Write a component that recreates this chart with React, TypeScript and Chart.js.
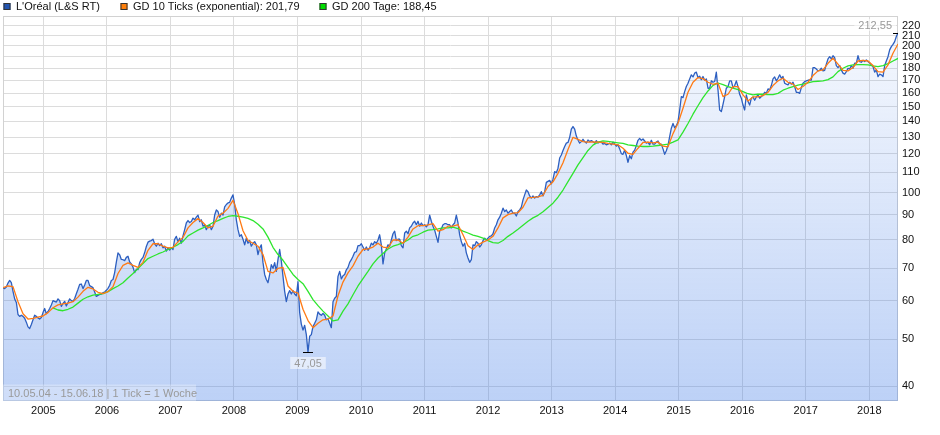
import React, { useEffect, useRef } from "react";
import { Chart, registerables } from "chart.js";

Chart.register(...registerables);

// ---- data -------------------------------------------------------------
const START_YEAR = 2004.365; // 10.05.04
const END_YEAR = 2018.452; // 15.06.18
const YEAR_TICKS = [2005, 2006, 2007, 2008, 2009, 2010, 2011, 2012, 2013, 2014, 2015, 2016, 2017, 2018];
const PRICE_TICKS = [40, 50, 60, 70, 80, 90, 100, 110, 120, 130, 140, 150, 160, 170, 180, 190, 200, 210, 220];
const PRICE_MIN = 37.34;
const PRICE_MAX = 230.3;
const PERIOD_TEXT = "10.05.04 - 15.06.18";
const TICK_TEXT = "1 Tick = 1 Woche";
const SERIES_NAMES = ["L'Oréal (L&S RT)", "GD 10 Ticks (exponential)", "GD 200 Tage"];

// L'Oréal price, evenly spaced ticks from START_YEAR to END_YEAR
const PRICE = [
  63.8, 63.5, 64.0, 65.2, 66.0, 65.3, 62.7, 60.5, 59.5, 56.2,
  55.7, 56.0, 55.7, 55.2, 54.2, 53.0, 52.6, 53.6, 54.8, 56.0,
  55.7, 55.3, 55.0, 55.4, 56.7, 57.8, 56.4, 57.0, 57.8, 58.8,
  60.0, 59.8, 59.6, 60.5, 60.0, 58.4, 59.2, 59.8, 58.5, 59.5,
  60.5, 60.0, 59.8, 60.6, 62.0, 63.3, 64.8, 64.9, 63.5, 64.6,
  66.0, 66.0, 64.4, 64.1, 63.8, 62.5, 61.2, 61.5, 61.8, 61.9,
  62.3, 62.5, 63.0, 63.6, 64.5, 66.0, 66.3, 68.5, 72.0, 75.2,
  74.5, 72.9, 72.8, 72.5, 73.6, 74.0, 72.0, 71.4, 70.3, 68.5,
  69.6, 69.5, 71.8, 72.9, 73.6, 75.3, 77.5, 79.1, 79.5,
  79.7, 80.2, 78.5, 77.6, 78.7, 77.8, 78.5, 77.0, 77.6, 75.8,
  77.0, 76.2, 77.0, 76.4, 80.2, 81.3, 79.3, 80.6, 78.7, 81.5,
  83.9, 86.6, 87.6, 86.8, 87.2, 88.6, 87.9, 89.0, 89.9, 87.2,
  87.9, 85.3, 85.9, 83.9, 85.3, 85.9, 83.9, 85.3, 89.9, 92.1,
  91.4, 89.0, 90.7, 89.9, 93.4, 94.5, 95.2, 95.5, 97.4, 98.9,
  94.5, 87.9, 83.9, 81.3, 81.9, 80.2, 78.1, 80.6, 78.7, 79.7,
  77.6, 78.7, 79.3, 78.1, 74.6, 77.0, 78.1, 71.8, 67.9, 66.3,
  65.3, 67.9, 71.1, 69.9, 71.8, 68.9, 72.9, 76.4, 72.3, 67.3,
  62.7, 59.7, 61.9, 62.9, 61.9, 62.9, 61.9, 61.4, 65.6, 56.7,
  53.7, 52.2, 53.4, 51.1, 47.05, 50.7, 51.1, 53.1, 53.9, 54.8,
  56.9, 56.3, 56.0, 56.5, 56.0, 54.8, 55.1, 53.9, 52.8, 59.7,
  60.7, 61.2, 67.3, 68.9, 66.5, 67.5, 67.9, 69.4, 70.2, 71.9,
  72.8, 74.0, 75.4, 75.6, 77.8, 77.8, 78.5, 77.3, 76.1, 77.3,
  76.1, 77.0, 78.7, 78.1, 79.3, 78.7, 79.9, 81.9, 78.1, 71.4,
  75.2, 76.6, 78.1, 77.6, 79.9, 82.3, 83.3, 79.7, 80.2, 80.2,
  77.8, 77.0, 82.6, 83.3, 82.3, 84.6, 85.3, 86.6, 87.3, 85.9,
  87.3, 85.3, 86.6, 85.5, 85.9, 85.0, 85.9, 89.9, 87.3, 85.3,
  83.7, 81.3, 79.0, 83.3, 84.2, 85.9, 86.3, 86.3, 85.9, 85.9,
  84.6, 85.9, 86.6, 89.9, 86.6, 81.9, 79.3, 77.6, 78.7, 75.2,
  73.4, 71.9, 72.8, 78.1, 77.8, 79.3, 78.7, 77.3, 78.1, 79.7,
  80.6, 79.9, 80.6, 81.3, 81.5, 82.3, 84.6, 85.9, 87.9, 89.0,
  90.7, 92.9, 91.4, 92.1, 90.7, 91.4, 92.1, 90.7, 90.7, 89.5,
  91.4, 92.1, 93.3, 96.6, 98.9, 101.2, 100.4, 98.4, 97.4, 98.4,
  97.4, 98.1, 97.8, 98.9, 100.4, 98.4, 100.4, 104.9, 105.4, 105.9,
  104.2, 106.5, 110.4, 109.8, 112.2, 117.7, 119.4, 122.0, 124.3, 126.3,
  126.7, 129.8, 134.9, 136.6, 134.9, 130.6, 128.2, 126.3, 127.2, 128.6,
  127.2, 126.3, 128.2, 127.2, 127.8, 127.2, 126.3, 127.8, 126.3, 127.2,
  126.9, 125.7, 126.1, 125.3, 125.7, 126.3, 125.3, 126.9, 125.7, 124.5,
  125.3, 122.9, 120.2, 119.8, 122.2, 119.1, 115.4, 119.1, 117.3, 121.0,
  122.2, 124.9, 128.0, 129.2, 128.0, 128.8, 127.6, 126.3, 126.9, 125.3,
  128.0, 125.7, 125.7, 126.9, 127.6, 125.7, 125.7, 122.9, 119.8, 121.8,
  124.9, 130.2, 135.5, 138.6, 135.8, 137.1, 139.8, 147.7, 157.4, 156.6,
  161.1, 165.0, 167.6, 171.1, 174.4, 172.7, 175.8, 176.6, 172.2, 173.3,
  170.5, 173.0, 170.0, 171.1, 163.7, 163.7, 169.5, 168.4, 169.0, 176.6,
  162.4, 147.7, 146.6, 151.7, 157.4, 163.7, 165.0, 169.5, 169.5, 164.2,
  165.8, 169.5, 165.0, 159.1, 156.2, 151.2, 147.7, 158.6, 153.7, 151.2,
  156.2, 157.1, 154.7, 157.1, 158.6, 156.2, 157.4, 158.6, 160.6, 159.8,
  163.2, 162.4, 165.8, 171.1, 172.7, 169.5, 171.6, 174.4, 171.6, 173.0,
  167.6, 166.9, 166.3, 168.4, 166.9, 168.4, 165.0, 160.6, 160.6, 159.8,
  164.2, 167.6, 168.9, 169.5, 170.0, 170.2, 170.2, 180.4, 180.4, 179.3,
  177.7, 178.2, 179.9, 177.7, 178.2, 183.4, 188.0, 190.0, 188.0, 190.9,
  189.1, 182.2, 180.4, 182.2, 178.5, 175.8, 175.0, 177.1, 179.9, 179.3,
  182.2, 179.9, 184.2, 184.2, 190.9, 185.7, 185.1, 186.8, 185.7, 187.1,
  185.7, 184.5, 182.8, 181.3, 176.6, 178.5, 173.0, 175.0, 174.4, 173.0,
  182.2, 186.2, 190.0, 196.2, 199.3, 201.4, 204.0, 209.0, 212.55,
];

// averages, read every 3rd tick
const AVG_EVERY = 3;
const EMA10 = [
  63.8, 64.3, 64.1, 59.7, 56.4, 55.0, 55.2, 55.5, 55.8, 56.7,
  58.0, 58.8, 59.1, 59.3, 59.7, 61.0, 62.7, 63.9, 63.4, 62.4,
  62.0, 62.6, 64.1, 68.2, 70.9, 71.7, 70.9, 70.2, 71.9, 76.1,
  78.5, 78.5, 77.6, 77.0, 77.2, 79.2, 80.9, 84.6, 86.8, 88.4,
  86.8, 84.6, 85.3, 89.5, 90.7, 92.8, 96.4, 90.5, 83.5, 79.7,
  78.7, 77.6, 74.6, 68.9, 68.4, 69.9, 70.2, 64.3, 62.7, 62.2,
  57.6, 54.6, 52.8, 53.9, 54.8, 55.0, 55.8, 61.4, 65.5, 68.4,
  70.7, 74.0, 76.4, 76.6, 77.3, 78.7, 77.3, 77.0, 79.9, 79.9,
  78.7, 81.0, 84.2, 85.5, 85.5, 85.8, 86.3, 83.3, 83.9, 85.3,
  85.3, 85.9, 81.9, 77.8, 76.4, 78.1, 79.1, 79.9, 81.3, 84.6,
  88.7, 90.1, 90.7, 90.9, 93.3, 97.5, 97.7, 98.0, 98.7, 102.9,
  105.2, 109.5, 115.1, 122.5, 129.8, 128.6, 127.2, 126.9, 127.0, 126.9,
  126.7, 126.1, 125.7, 125.3, 123.3, 120.4, 119.8, 123.3, 126.7, 126.9,
  126.5, 126.9, 124.5, 124.1, 132.1, 138.7, 148.9, 160.6, 168.4, 172.2,
  171.3, 168.4, 166.8, 167.6, 157.4, 159.1, 164.9, 165.0, 158.6, 154.2,
  157.1, 157.1, 158.1, 160.6, 165.8, 169.5, 171.6, 168.4, 166.9, 162.7,
  165.0, 168.4, 173.8, 177.7, 178.5, 184.2, 188.6, 183.4, 178.2, 177.7,
  180.5, 186.2, 186.8, 186.2, 182.2, 177.1, 176.6, 182.8, 193.1, 201.79,
];

const SMA200 = [
  null, null, null, null, null, null, null, null, null, null,
  58.0, 57.4, 57.2, 57.6, 58.2, 59.3, 60.4, 61.1, 61.6, 61.8,
  62.0, 62.6, 63.5, 64.3, 65.3, 66.8, 68.2, 69.8, 71.5, 73.2,
  74.0, 74.8, 75.5, 76.4, 77.2, 78.2, 79.4, 81.5, 82.6, 83.7,
  84.6, 85.6, 86.8, 87.6, 88.5, 89.3, 89.7, 89.4, 89.0, 88.5,
  87.6, 86.1, 84.2, 81.0, 77.2, 74.6, 72.6, 70.2, 67.9, 66.3,
  65.0, 62.7, 60.3, 58.6, 57.1, 55.8, 54.5, 54.8, 57.1, 59.1,
  61.7, 64.3, 66.6, 68.9, 71.4, 73.4, 75.0, 76.6, 77.6, 78.2,
  78.9, 79.9, 81.3, 81.9, 82.9, 83.7, 83.9, 84.2, 84.6, 84.6,
  84.9, 84.3, 83.3, 82.6, 81.8, 81.3, 80.6, 79.7, 78.9, 78.7,
  79.7, 81.3, 82.6, 84.1, 85.7, 87.3, 88.7, 89.8, 91.3, 93.2,
  95.1, 97.8, 101.2, 105.3, 109.5, 114.0, 118.0, 122.0, 125.1, 126.9,
  127.6, 127.3, 126.9, 126.5, 126.1, 125.3, 124.9, 124.5, 124.3, 124.3,
  124.5, 124.9, 125.3, 125.7, 126.9, 128.2, 133.0, 138.6, 144.8, 150.7,
  156.6, 161.6, 165.9, 167.8, 166.5, 165.0, 163.7, 162.7, 161.1, 159.5,
  158.6, 159.1, 159.1, 158.9, 158.9, 159.8, 162.2, 163.7, 165.0, 166.1,
  166.9, 167.9, 168.9, 169.2, 169.5, 170.5, 172.7, 177.1, 179.9, 181.9,
  182.8, 183.1, 183.1, 182.8, 181.9, 181.3, 182.2, 183.9, 186.2, 188.45,
];

// ---- styling ----------------------------------------------------------
const FONT = '"Liberation Sans", Arial, Helvetica, sans-serif';
const BLUE = "#2d5fc0";
const ORANGE = "#ff7a14";
const GREEN = "#2ee52e";
const GRID = "#dcdcdc";

const fmt = (v: number) => v.toFixed(2).replace(".", ",");

export default function App() {
  const ref = useRef<HTMLCanvasElement>(null);

  useEffect(() => {
    const canvas = ref.current;
    if (!canvas) return;
    const step = (END_YEAR - START_YEAR) / (PRICE.length - 1);
    const priceData = PRICE.map((v, i) => ({ x: START_YEAR + i * step, y: v }));
    const emaData = EMA10.map((v, j) => ({ x: START_YEAR + j * AVG_EVERY * step, y: v }));
    const smaData = SMA200.map((v, j) => ({ x: START_YEAR + j * AVG_EVERY * step, y: v }));

    let iMax = 0;
    let iMin = 0;
    PRICE.forEach((v, i) => {
      if (v > PRICE[iMax]) iMax = i;
      if (v < PRICE[iMin]) iMin = i;
    });
    const lastEma = EMA10[EMA10.length - 1] as number;
    const lastSma = SMA200[SMA200.length - 1] as number;

    const legendItems = [
      { text: SERIES_NAMES[0], fill: "#2355b0", x: 3.5 },
      { text: `${SERIES_NAMES[1]}: ${fmt(lastEma)}`, fill: "#ff7f0a", x: 120.5 },
      { text: `${SERIES_NAMES[2]}: ${fmt(lastSma)}`, fill: "#00dd00", x: 319.5 },
    ];

    const decor = {
      id: "decor",
      beforeDatasetsDraw(chart: any) {
        const { ctx, chartArea: a } = chart;
        ctx.save();
        ctx.strokeStyle = "#d2d2d2";
        ctx.lineWidth = 1;
        ctx.strokeRect(a.left + 0.5, a.top + 0.5, a.right - a.left - 1, a.bottom - a.top - 1);
        ctx.restore();
      },
      afterDatasetsDraw(chart: any) {
        const { ctx, chartArea: a, scales } = chart;
        const xs = scales.x;
        const ys = scales.y;
        ctx.save();
        ctx.font = `11px ${FONT}`;

        // period info box
        ctx.fillStyle = "rgba(255,255,255,0.28)";
        ctx.fillRect(a.left, a.bottom - 16.5, 193, 16.5);
        ctx.fillStyle = "#9a9a9a";
        ctx.textAlign = "left";
        ctx.textBaseline = "middle";
        ctx.fillText(`${PERIOD_TEXT} | ${TICK_TEXT}`, a.left + 5, a.bottom - 7.5);

        // min / max markers
        const mark = (i: number, above: boolean) => {
          const px = xs.getPixelForValue(priceData[i].x);
          const py = Math.round(ys.getPixelForValue(priceData[i].y)) + 0.5;
          ctx.save();
          ctx.beginPath();
          ctx.rect(a.left, a.top, a.right - a.left, a.bottom - a.top);
          ctx.clip();
          ctx.strokeStyle = "#000";
          ctx.lineWidth = 1;
          ctx.beginPath();
          ctx.moveTo(px - 5, py);
          ctx.lineTo(px + 5, py);
          ctx.stroke();
          ctx.restore();
          const text = fmt(PRICE[i]);
          const w = ctx.measureText(text).width + 8;
          const h = 12;
          const cx = Math.min(Math.max(px, a.left + w / 2 + 2), a.right - w / 2 - 2);
          const cy = above ? py - 8.5 : py + 10.5;
          ctx.fillStyle = "rgba(255,255,255,0.55)";
          ctx.fillRect(cx - w / 2, cy - h / 2, w, h);
          ctx.fillStyle = "#9a9a9a";
          ctx.textAlign = "center";
          ctx.textBaseline = "middle";
          ctx.fillText(text, cx, cy + 0.5);
        };
        mark(iMax, true);
        mark(iMin, false);

        // legend
        ctx.textAlign = "left";
        ctx.textBaseline = "middle";
        legendItems.forEach((it) => {
          ctx.fillStyle = it.fill;
          ctx.fillRect(it.x, 3, 7, 7);
          ctx.strokeStyle = "#333";
          ctx.lineWidth = 1;
          ctx.strokeRect(it.x + 0.5, 3.5, 6, 6);
          ctx.fillStyle = "#111";
          ctx.fillText(it.text, it.x + 12.5, 7);
        });
        ctx.restore();
      },
    };

    const chart = new Chart(canvas, {
      type: "line",
      data: {
        datasets: [
          {
            label: SERIES_NAMES[0],
            data: priceData,
            borderColor: BLUE,
            borderWidth: 1.3,
            pointRadius: 0,
            fill: "start",
            order: 3,
            backgroundColor: (c: any) => {
              const ch = c.chart;
              const a = ch.chartArea;
              if (!a) return "rgba(0,0,0,0)";
              const g = ch.ctx.createLinearGradient(0, a.top, 0, a.bottom);
              g.addColorStop(0, "rgba(60,120,230,0.04)");
              g.addColorStop(1, "rgba(60,120,230,0.34)");
              return g;
            },
          },
          {
            label: SERIES_NAMES[2],
            data: smaData,
            borderColor: GREEN,
            borderWidth: 1.3,
            pointRadius: 0,
            fill: false,
            order: 2,
          },
          {
            label: SERIES_NAMES[1],
            data: emaData,
            borderColor: ORANGE,
            borderWidth: 1.3,
            pointRadius: 0,
            fill: false,
            order: 1,
          },
        ],
      },
      options: {
        responsive: false,
        animation: false,
        events: [],
        layout: { padding: { left: 3, top: 16, right: 0, bottom: 0 } },
        plugins: { legend: { display: false }, tooltip: { enabled: false } },
        elements: { line: { tension: 0, borderJoinStyle: "round" }, point: { radius: 0 } },
        scales: {
          x: {
            type: "linear",
            min: START_YEAR,
            max: END_YEAR,
            grid: { color: GRID, drawTicks: false },
            border: { display: false },
            ticks: {
              autoSkip: false,
              maxRotation: 0,
              padding: 3,
              color: "#111",
              font: { family: FONT, size: 11 },
              callback: (v: any) => String(v),
            },
            afterBuildTicks: (s: any) => {
              s.ticks = YEAR_TICKS.map((v) => ({ value: v }));
            },
            afterFit: (s: any) => {
              s.height = 34;
            },
          },
          y: {
            type: "logarithmic",
            position: "right",
            min: PRICE_MIN,
            max: PRICE_MAX,
            grid: { color: GRID, drawTicks: false },
            border: { display: false },
            ticks: {
              autoSkip: false,
              padding: 4,
              color: "#111",
              font: { family: FONT, size: 11 },
              callback: (v: any) => String(v),
            },
            afterBuildTicks: (s: any) => {
              s.ticks = PRICE_TICKS.map((v) => ({ value: v }));
            },
            afterFit: (s: any) => {
              s.width = 42;
            },
          },
        },
      } as any,
      plugins: [decor],
    });

    return () => chart.destroy();
  }, []);

  return (
    <div style={{ position: "fixed", left: 0, top: 0, width: 940, height: 435, background: "#fff" }}>
      <canvas ref={ref} width={940} height={435} style={{ display: "block", width: 940, height: 435 }} />
    </div>
  );
}
